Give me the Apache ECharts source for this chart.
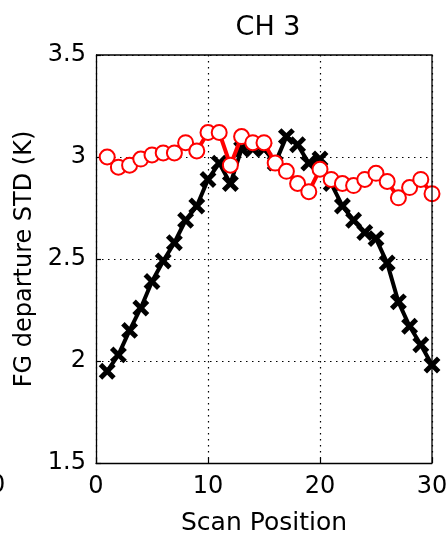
<!DOCTYPE html>
<html>
<head>
<meta charset="utf-8">
<style>
  html, body { margin: 0; padding: 0; background: #ffffff; }
  #chart { width: 448px; height: 536px; }
</style>
<script src="https://cdn.jsdelivr.net/npm/echarts@6/dist/echarts.min.js"></script>
</head>
<body>
<div id="chart"></div>
<script>
// Scan positions along the swath
const scanPos = [1, 2, 3, 4, 5, 6, 7, 8, 9, 10, 11, 12, 13, 14, 15,
                 16, 17, 18, 19, 20, 21, 22, 23, 24, 25, 26, 27, 28, 29, 30];

// FG departure standard deviation (K), black cross series
const stdCross = [1.95, 2.03, 2.15, 2.26, 2.39, 2.49, 2.58, 2.69, 2.76, 2.89,
                  2.97, 2.87, 3.04, 3.04, 3.04, 2.97, 3.10, 3.06, 2.97, 2.99,
                  2.87, 2.76, 2.69, 2.63, 2.60, 2.48, 2.29, 2.17, 2.08, 1.98];

// FG departure standard deviation (K), red circle series
const stdCircle = [3.00, 2.95, 2.96, 2.99, 3.01, 3.02, 3.02, 3.07, 3.03, 3.12,
                   3.12, 2.96, 3.10, 3.07, 3.07, 2.97, 2.93, 2.87, 2.83, 2.94,
                   2.89, 2.87, 2.86, 2.89, 2.92, 2.88, 2.80, 2.85, 2.89, 2.82];

const xTicks = [0, 10, 20, 30];
const yTicks = [1.5, 2, 2.5, 3, 3.5];

const FONT = '"DejaVu Sans", "Liberation Sans", Arial, sans-serif';

// Filled plus shape, rotated 45 degrees to form an "x" marker
const crossPath = 'path://M37,0H63V37H100V63H63V100H37V63H0V37H37Z';

const chart = echarts.init(document.getElementById('chart'), null, { renderer: 'canvas' });

const gridDash = { type: [1.5, 4.5], width: 1.2, color: '#000' };

chart.setOption({
  backgroundColor: '#ffffff',
  animation: false,
  title: {
    text: 'CH 3',
    left: 263,
    top: 9,
    textAlign: 'center',
    textStyle: { fontFamily: FONT, fontSize: 27, fontWeight: 'normal', color: '#000' }
  },
  grid: {
    left: 96, right: 16, top: 55, bottom: 73,
    containLabel: false,
    outerBoundsMode: 'none'
  },
  xAxis: {
    type: 'value',
    min: xTicks[0],
    max: xTicks[xTicks.length - 1],
    interval: 10,
    name: 'Scan Position',
    nameLocation: 'middle',
    nameGap: 48,
    nameTextStyle: { fontFamily: FONT, fontSize: 25, color: '#000' },
    axisLine: { show: true, onZero: false, lineStyle: { color: '#000', width: 1.3 } },
    axisTick: { show: true, inside: true, length: 5, lineStyle: { color: '#000', width: 1.2 } },
    axisLabel: { fontFamily: FONT, fontSize: 24, color: '#000', margin: 12 },
    splitLine: { show: true, lineStyle: gridDash }
  },
  yAxis: {
    type: 'value',
    min: yTicks[0],
    max: yTicks[yTicks.length - 1],
    interval: 0.5,
    name: 'FG departure STD (K)',
    nameLocation: 'middle',
    nameGap: 57,
    nameTextStyle: { fontFamily: FONT, fontSize: 24, color: '#000' },
    axisLine: { show: true, onZero: false, lineStyle: { color: '#000', width: 1.3 } },
    axisTick: { show: true, inside: true, length: 5, lineStyle: { color: '#000', width: 1.2 } },
    axisLabel: {
      fontFamily: FONT, fontSize: 24, color: '#000', margin: 10,
      formatter: v => String(v)
    },
    splitLine: { show: true, lineStyle: gridDash }
  },
  graphic: [
    // frame on the top and right sides of the axes box
    {
      type: 'polyline',
      shape: { points: [[96, 55], [432, 55], [432, 463]] },
      style: { stroke: '#000', lineWidth: 1.3, fill: null },
      z: 10
    },
    // neighbouring panel's tick label, clipped by the page edge
    {
      type: 'text',
      left: -10,
      top: 474,
      style: { text: '0', font: '24px ' + FONT, fill: '#000' }
    }
  ],
  series: [
    {
      name: 'cross',
      type: 'line',
      data: scanPos.map((x, i) => [x, stdCross[i]]),
      symbol: crossPath,
      symbolSize: 19,
      symbolRotate: 45,
      lineStyle: { color: '#000', width: 4 },
      itemStyle: { color: '#000' },
      z: 3
    },
    {
      name: 'circle',
      type: 'line',
      data: scanPos.map((x, i) => [x, stdCircle[i]]),
      symbol: 'emptyCircle',
      symbolSize: 15,
      lineStyle: { color: '#ff0000', width: 4 },
      itemStyle: { color: '#ff0000', borderColor: '#ff0000', borderWidth: 5 },
      z: 4
    }
  ]
});
</script>
</body>
</html>
